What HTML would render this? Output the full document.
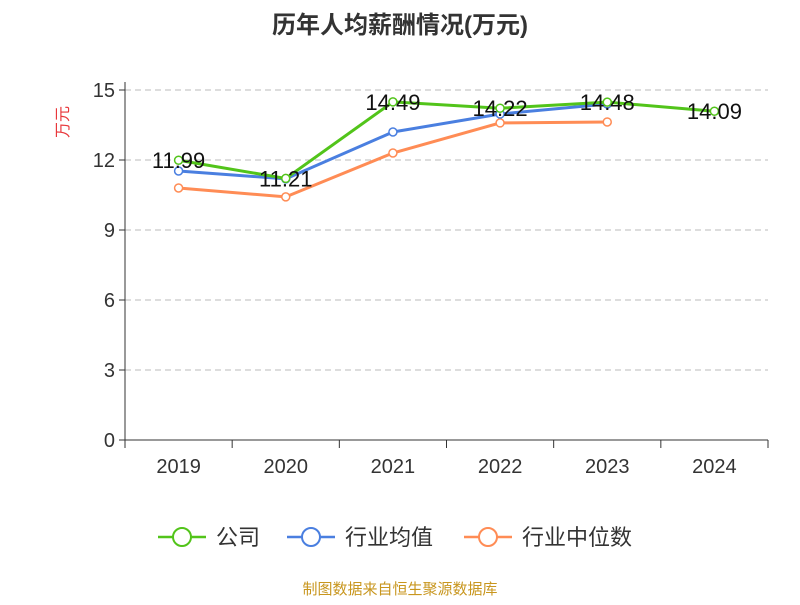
<!DOCTYPE html>
<html><head><meta charset="utf-8"><style>
body{margin:0;background:#fff;}
svg text{font-family:"Liberation Sans","Noto Sans CJK SC",sans-serif;}
</style></head><body>
<svg id="c" width="800" height="600" xmlns="http://www.w3.org/2000/svg">
<text x="400" y="33" text-anchor="middle" font-size="24" font-weight="bold" fill="#333">历年人均薪酬情况(万元)</text>
<text transform="translate(68,122) rotate(-90)" text-anchor="middle" font-size="16" fill="#e8373b">万元</text>
<g id="grid"></g><g id="axes"></g><g id="series"></g>
<g>
<g><line x1="158" y1="537" x2="206" y2="537" stroke="#52c41a" stroke-width="2.5"/><circle cx="182" cy="537" r="9" fill="#fff" stroke="#52c41a" stroke-width="2"/><text x="216" y="545" font-size="22" fill="#333">公司</text></g>
<g><line x1="287" y1="537" x2="335" y2="537" stroke="#4a7fe0" stroke-width="2.5"/><circle cx="311" cy="537" r="9" fill="#fff" stroke="#4a7fe0" stroke-width="2"/><text x="345" y="545" font-size="22" fill="#333">行业均值</text></g>
<g><line x1="464" y1="537" x2="512" y2="537" stroke="#ff8c55" stroke-width="2.5"/><circle cx="488" cy="537" r="9" fill="#fff" stroke="#ff8c55" stroke-width="2"/><text x="522" y="545" font-size="22" fill="#333">行业中位数</text></g>
</g>
<text x="400" y="594" text-anchor="middle" font-size="15" fill="#c8961e">制图数据来自恒生聚源数据库</text>
</svg>
<script>
const categories=["2019","2020","2021","2022","2023","2024"];
const yTicks=[0,3,6,9,12,15];
const company=[11.99,11.21,14.49,14.22,14.48,14.09];
const industryAvg=[11.53,11.19,13.2,13.97,14.4,null];
const industryMedian=[10.8,10.42,12.3,13.59,13.63,null];
const companyLabels=["11.99","11.21","14.49","14.22","14.48","14.09"];
const NS="http://www.w3.org/2000/svg";
const x0=125,x1=768,y0=440,y1=90,yMax=15;
const bw=(x1-x0)/categories.length;
const X=i=>x0+bw*(i+0.5);
const Y=v=>y0-(v/yMax)*(y0-y1);
function mk(t,a,p){const e=document.createElementNS(NS,t);for(const k in a)e.setAttribute(k,a[k]);p.appendChild(e);return e;}
const grid=document.getElementById('grid'),axes=document.getElementById('axes'),ser=document.getElementById('series');
yTicks.forEach(v=>{
 if(v>0){const l=mk('line',{x1:x0,x2:x1,y1:Y(v),y2:Y(v),stroke:'#bbb','stroke-dasharray':'6,4'},grid);
 
 }
 const tk=mk('line',{x1:x0-6,x2:x0,y1:Y(v),y2:Y(v),stroke:'#333'},axes);
 
 
 const t=mk('text',{x:x0-10,y:Y(v)+7,'text-anchor':'end','font-size':20,fill:'#333'},axes);t.textContent=v;
 
 
});
const ya=mk('line',{x1:x0,x2:x0,y1:y1-8,y2:y0,stroke:'#333'},axes);


const xa=mk('line',{x1:x0,x2:x1,y1:y0,y2:y0,stroke:'#333'},axes);


for(let i=0;i<=categories.length;i++){const tk=mk('line',{x1:x0+bw*i,x2:x0+bw*i,y1:y0,y2:y0+8,stroke:'#333'},axes);
 
 }
categories.forEach((c,i)=>{const t=mk('text',{x:X(i),y:y0+33,'text-anchor':'middle','font-size':20,fill:'#333'},axes);t.textContent=c;
 
 });
function series(data,color,name){
 const g=mk('g',{},ser);
 
 
 const pts=data.map((v,i)=>v==null?null:[X(i),Y(v)]).filter(p=>p);
 mk('polyline',{points:pts.map(p=>p.join(',')).join(' '),fill:'none',stroke:color,'stroke-width':3},g);
 pts.forEach(p=>{const c=mk('circle',{cx:p[0],cy:p[1],r:4,fill:'#fff',stroke:color,'stroke-width':1.5},g);
 
 });
}
series(industryMedian,'#ff8c55','industry-median-line');
series(industryAvg,'#4a7fe0','industry-avg-line');
series(company,'#52c41a','company-line');
company.forEach((v,i)=>{const t=mk('text',{x:X(i),y:Y(v)+8,'text-anchor':'middle','font-size':22,fill:'#111'},ser);t.textContent=companyLabels[i];
 
 });
</script>
</body></html>
